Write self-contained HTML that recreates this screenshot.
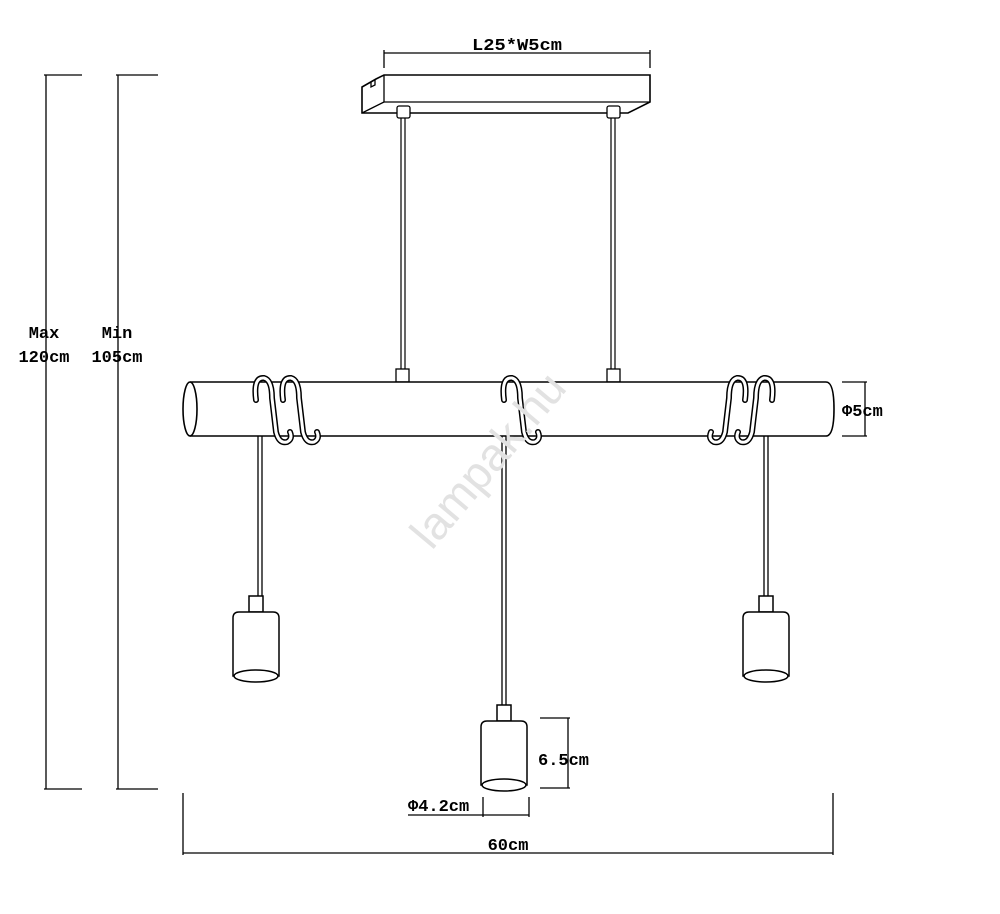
<!DOCTYPE html>
<html><head><meta charset="utf-8"><style>
html,body{margin:0;padding:0;background:#fff}
svg{display:block}
text{font-family:"Liberation Mono",monospace;font-weight:bold;fill:#000}
</style></head><body>
<svg width="1000" height="914" viewBox="0 0 1000 914" xmlns="http://www.w3.org/2000/svg">
<defs>
<g id="hook">
<path d="M0 20 Q-3 -3 8 -2 Q16 0 16 18 L20 52 Q23 64 31 62 Q37 59 34 52" fill="none" stroke="#000" stroke-width="6" stroke-linecap="round"/>
<path d="M0 20 Q-3 -3 8 -2 Q16 0 16 18 L20 52 Q23 64 31 62 Q37 59 34 52" fill="none" stroke="#fff" stroke-width="3" stroke-linecap="round"/>
</g>
<g id="sock">
<rect x="-7" y="0" width="14" height="16" fill="#fff" stroke="#000" stroke-width="1.5"/>
<path d="M-23 22 Q-23 16 -17 16 L17 16 Q23 16 23 22 L23 80 L-23 80 Z" fill="#fff" stroke="#000" stroke-width="1.5"/>
<ellipse cx="0" cy="80" rx="22" ry="6" fill="#fff" stroke="#000" stroke-width="1.5"/>
</g>
</defs>
<g stroke="#000" stroke-width="1.3" fill="none">
<line x1="384" y1="53" x2="650" y2="53"/><line x1="384" y1="50" x2="384" y2="68"/><line x1="650" y1="50" x2="650" y2="68"/>
<polygon points="384,75 650,75 650,102 628,113 362,113 362,87 376,79" fill="#fff" stroke-width="1.6"/>
<line x1="384" y1="75" x2="384" y2="102"/><line x1="384" y1="102" x2="650" y2="102"/><line x1="362" y1="113" x2="384" y2="102"/>
<path d="M371 82 L371 87 L375 85 L375 80"/>
<line x1="401" y1="117" x2="401" y2="370" stroke-width="1.2"/><line x1="405" y1="117" x2="405" y2="370" stroke-width="1.2"/>
<line x1="611" y1="117" x2="611" y2="370" stroke-width="1.2"/><line x1="615" y1="117" x2="615" y2="370" stroke-width="1.2"/>
<rect x="397" y="106" width="13" height="12" rx="2" fill="#fff"/><rect x="607" y="106" width="13" height="12" rx="2" fill="#fff"/>
<rect x="396" y="369" width="13" height="13" fill="#fff"/><rect x="607" y="369" width="13" height="13" fill="#fff"/>
<line x1="258" y1="436" x2="258" y2="597"/><line x1="262" y1="436" x2="262" y2="597"/>
<line x1="502" y1="436" x2="502" y2="706"/><line x1="506" y1="436" x2="506" y2="706"/>
<line x1="764" y1="436" x2="764" y2="597"/><line x1="768" y1="436" x2="768" y2="597"/>
<path d="M190 382 L826 382 Q834 382 834 409 Q834 436 826 436 L190 436" fill="#fff" stroke-width="1.6"/>
<ellipse cx="190" cy="409" rx="7" ry="27" fill="#fff" stroke-width="1.6"/>
</g>
<use href="#hook" x="256" y="380"/><use href="#hook" x="283" y="380"/>
<use href="#hook" x="504" y="380"/>
<g transform="translate(1502,0) scale(-1,1)"><use href="#hook" x="730" y="380"/><use href="#hook" x="757" y="380"/></g>
<use href="#sock" x="256" y="596"/>
<use href="#sock" x="504" y="705"/>
<use href="#sock" x="766" y="596"/>
<g stroke="#000" stroke-width="1.3" fill="none">
<line x1="46" y1="75" x2="46" y2="789"/><line x1="44" y1="75" x2="82" y2="75"/><line x1="44" y1="789" x2="82" y2="789"/>
<line x1="118" y1="75" x2="118" y2="789"/><line x1="116" y1="75" x2="158" y2="75"/><line x1="116" y1="789" x2="158" y2="789"/>
<line x1="842" y1="382" x2="867" y2="382"/><line x1="842" y1="436" x2="867" y2="436"/><line x1="865" y1="382" x2="865" y2="436"/>
<line x1="540" y1="718" x2="570" y2="718"/><line x1="540" y1="788" x2="570" y2="788"/><line x1="568" y1="718" x2="568" y2="788"/>
<line x1="483" y1="797" x2="483" y2="817"/><line x1="529" y1="797" x2="529" y2="817"/><line x1="408" y1="815" x2="529" y2="815"/>
<line x1="183" y1="793" x2="183" y2="855"/><line x1="833" y1="793" x2="833" y2="855"/><line x1="183" y1="853" x2="833" y2="853"/>
</g>
<text x="517" y="50" font-size="17" text-anchor="middle" textLength="90" lengthAdjust="spacingAndGlyphs">L25*W5cm</text>
<text x="44" y="338" font-size="17" text-anchor="middle">Max</text>
<text x="44" y="362" font-size="17" text-anchor="middle">120cm</text>
<text x="117" y="338" font-size="17" text-anchor="middle">Min</text>
<text x="117" y="362" font-size="17" text-anchor="middle">105cm</text>
<text x="842" y="416" font-size="17">Φ5cm</text>
<text x="538" y="765" font-size="17">6.5cm</text>
<text x="408" y="811" font-size="17">Φ4.2cm</text>
<text x="508" y="850" font-size="17" text-anchor="middle">60cm</text>
<text x="500" y="470" font-size="46" style="font-family:'Liberation Sans',sans-serif;font-weight:normal;fill:#e2e2e2" text-anchor="middle" transform="rotate(-50 500 470)">lampak.hu</text>
</svg>
</body></html>
